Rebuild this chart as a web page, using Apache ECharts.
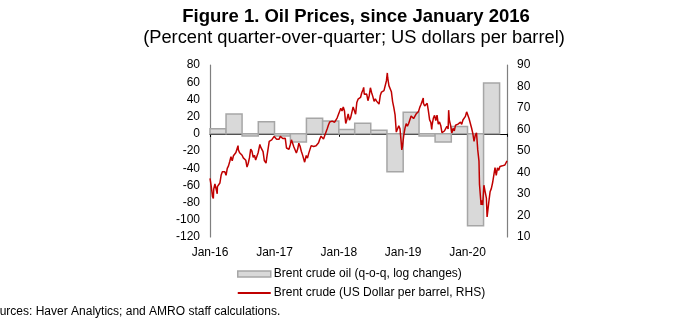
<!DOCTYPE html>
<html>
<head>
<meta charset="utf-8">
<script src="https://cdn.jsdelivr.net/npm/echarts@6/dist/echarts.min.js"></script>
<style>
html,body{margin:0;padding:0;background:#fff;}
#chart{width:700px;height:322px;}
</style>
</head>
<body>
<div id="chart"></div>
<script>
// Quarterly Brent change (q-o-q, log changes), bars span each quarter
var barQuarterStarts = ['2016-01-01','2016-04-01','2016-07-01','2016-10-01',
  '2017-01-01','2017-04-01','2017-07-01','2017-10-01',
  '2018-01-01','2018-04-01','2018-07-01','2018-10-01',
  '2019-01-01','2019-04-01','2019-07-01','2019-10-01',
  '2020-01-01','2020-04-01','2020-07-01'];
var barValues = [6, 23, -2.5, 14, -2.5, -9.5, 18, 15, 5, 12.4, 4, -44, 25, -2.5, -9.5, 8.5, -107, 59];

// Brent crude price, US$ per barrel
var brentDates = [
'2016-01-01','2016-01-08','2016-01-15','2016-01-20','2016-01-22','2016-01-29','2016-02-05','2016-02-11','2016-02-12','2016-02-19','2016-02-26',
'2016-03-04','2016-03-11','2016-03-18','2016-03-25','2016-04-01','2016-04-08','2016-04-15','2016-04-22','2016-04-29',
'2016-05-06','2016-05-13','2016-05-20','2016-05-27','2016-06-03','2016-06-08','2016-06-10','2016-06-17','2016-06-24',
'2016-07-01','2016-07-08','2016-07-15','2016-07-22','2016-07-29','2016-08-02','2016-08-05','2016-08-12','2016-08-19','2016-08-26',
'2016-09-02','2016-09-09','2016-09-16','2016-09-23','2016-09-30','2016-10-07','2016-10-10','2016-10-14','2016-10-21','2016-10-28',
'2016-11-04','2016-11-11','2016-11-14','2016-11-18','2016-11-25','2016-12-02','2016-12-09','2016-12-16','2016-12-23','2016-12-30',
'2017-01-06','2017-01-13','2017-01-20','2017-01-27','2017-02-03','2017-02-10','2017-02-17','2017-02-24',
'2017-03-03','2017-03-10','2017-03-17','2017-03-24','2017-03-31','2017-04-07','2017-04-14','2017-04-21','2017-04-28',
'2017-05-05','2017-05-12','2017-05-19','2017-05-26','2017-06-02','2017-06-09','2017-06-16','2017-06-21','2017-06-23','2017-06-30',
'2017-07-07','2017-07-14','2017-07-21','2017-07-28','2017-08-04','2017-08-11','2017-08-18','2017-08-25',
'2017-09-01','2017-09-08','2017-09-15','2017-09-22','2017-09-29','2017-10-06','2017-10-13','2017-10-20','2017-10-27',
'2017-11-03','2017-11-10','2017-11-17','2017-11-24','2017-12-01','2017-12-08','2017-12-15','2017-12-22','2017-12-29',
'2018-01-05','2018-01-12','2018-01-19','2018-01-26','2018-02-02','2018-02-09','2018-02-16','2018-02-23',
'2018-03-02','2018-03-09','2018-03-16','2018-03-23','2018-03-30','2018-04-06','2018-04-13','2018-04-20','2018-04-27',
'2018-05-04','2018-05-11','2018-05-18','2018-05-22','2018-05-25','2018-06-01','2018-06-08','2018-06-15','2018-06-22','2018-06-29',
'2018-07-06','2018-07-13','2018-07-20','2018-07-27','2018-08-03','2018-08-10','2018-08-17','2018-08-24','2018-08-31',
'2018-09-07','2018-09-14','2018-09-21','2018-09-28','2018-10-03','2018-10-05','2018-10-12','2018-10-19','2018-10-26',
'2018-11-02','2018-11-09','2018-11-16','2018-11-23','2018-11-30','2018-12-07','2018-12-14','2018-12-21','2018-12-24','2018-12-28',
'2019-01-04','2019-01-11','2019-01-18','2019-01-25','2019-02-01','2019-02-08','2019-02-15','2019-02-22',
'2019-03-01','2019-03-08','2019-03-15','2019-03-22','2019-03-29','2019-04-05','2019-04-12','2019-04-19','2019-04-25','2019-04-26',
'2019-05-03','2019-05-10','2019-05-17','2019-05-24','2019-05-31','2019-06-07','2019-06-12','2019-06-14','2019-06-21','2019-06-28',
'2019-07-05','2019-07-12','2019-07-19','2019-07-26','2019-08-02','2019-08-09','2019-08-16','2019-08-23','2019-08-30',
'2019-09-06','2019-09-13','2019-09-16','2019-09-20','2019-09-27','2019-10-04','2019-10-11','2019-10-18','2019-10-25',
'2019-11-01','2019-11-08','2019-11-15','2019-11-22','2019-11-29','2019-12-06','2019-12-13','2019-12-20','2019-12-27',
'2020-01-03','2020-01-06','2020-01-10','2020-01-17','2020-01-24','2020-01-31','2020-02-07','2020-02-14','2020-02-21','2020-02-28',
'2020-03-06','2020-03-09','2020-03-13','2020-03-18','2020-03-20','2020-03-27','2020-04-01','2020-04-03','2020-04-09','2020-04-17',
'2020-04-21','2020-04-24','2020-05-01','2020-05-08','2020-05-15','2020-05-22','2020-05-29','2020-06-05','2020-06-12','2020-06-19',
'2020-06-26','2020-07-03','2020-07-10','2020-07-17','2020-07-24','2020-07-31','2020-08-07','2020-08-12'
];
var brentPrices = [
37.3,33.6,28.9,27.9,32.2,34.7,34.1,30.1,33.4,33.0,35.1,
38.7,40.4,41.2,40.4,38.7,41.9,43.1,45.1,47.4,
45.4,47.8,48.7,49.3,49.6,52.5,50.5,49.2,48.4,
48.0,46.8,47.6,45.7,42.5,41.8,44.3,46.9,50.9,49.9,
47.0,48.0,45.8,45.9,49.2,51.9,53.1,51.9,51.8,49.7,
45.6,44.8,44.4,46.9,47.2,54.5,54.3,55.2,55.2,56.8,
57.1,55.5,55.5,55.5,56.8,56.7,55.8,56.0,
55.9,51.4,51.8,50.8,52.8,55.2,55.9,51.9,51.7,
49.1,50.8,53.6,52.2,49.9,48.2,47.4,44.8,45.5,47.9,
46.7,48.9,48.1,52.5,52.4,52.1,52.7,52.4,
52.8,53.8,55.6,56.9,57.5,55.6,57.2,57.8,60.4,
62.1,63.5,62.7,63.9,63.7,63.4,63.2,65.3,66.9,
67.6,69.9,68.6,70.5,68.6,62.8,64.8,67.3,
64.4,65.5,66.2,70.5,70.3,67.1,72.6,74.1,74.6,
74.9,77.1,78.5,79.6,76.4,76.8,76.5,73.4,75.6,79.4,
77.1,75.3,73.1,74.3,73.2,72.8,71.8,75.8,77.4,
76.8,78.1,78.8,82.7,86.3,84.2,80.4,79.8,77.6,
73.0,70.2,66.8,58.8,58.7,61.7,60.3,53.8,50.5,52.2,
57.1,60.5,62.7,61.6,62.8,62.1,66.3,67.1,
65.1,65.7,67.2,67.0,68.4,70.3,71.6,71.9,74.6,72.2,
70.9,70.6,72.2,68.7,64.5,63.3,60.0,62.0,65.2,66.6,
64.2,66.7,62.5,63.5,61.9,58.5,58.6,59.3,60.4,
61.5,60.2,69.0,64.3,61.9,58.4,60.5,59.4,62.0,
61.7,62.5,63.3,63.4,62.4,64.4,65.2,66.1,68.2,
68.6,68.9,65.0,64.9,60.7,58.2,54.5,57.3,58.5,50.5,
45.3,34.4,33.9,24.9,27.0,24.9,24.7,34.1,31.5,28.1,
19.3,21.4,26.4,31.0,32.5,35.1,35.3,42.3,38.7,42.2,
41.0,42.8,43.2,43.1,43.3,43.5,44.4,45.4
];

var barName = 'Brent crude oil (q-o-q, log changes)';
var lineName = 'Brent crude (US Dollar per barrel, RHS)';

var xMin = +new Date('2016-01-01T00:00:00');
var xMax = +new Date('2020-08-12T00:00:00');

var barData = barValues.map(function (v, i) {
  return [+new Date(barQuarterStarts[i] + 'T00:00:00'), +new Date(barQuarterStarts[i + 1] + 'T00:00:00'), v];
});
var lineData = brentDates.map(function (d, i) {
  return [+new Date(d + 'T00:00:00'), brentPrices[i]];
});

var FONT = 'Liberation Sans, Arial, sans-serif';
var YEAR = 365 * 24 * 3600 * 1000;

var chart = echarts.init(document.getElementById('chart'), null, {renderer: 'canvas'});
chart.setOption({
  animation: false,
  backgroundColor: '#ffffff',
  textStyle: {fontFamily: FONT},
  grid: {left: 210, right: 193, top: 65, bottom: 85, containLabel: false},
  graphic: [
    {type: 'text', x: 356, y: 7, style: {text: 'Figure 1. Oil Prices, since January 2016', font: 'bold 18.5px ' + FONT, fill: '#000', textAlign: 'center', textVerticalAlign: 'top'}},
    {type: 'text', x: 354, y: 29, style: {text: '(Percent quarter-over-quarter; US dollars per barrel)', font: '18.3px ' + FONT, fill: '#000', textAlign: 'center', textVerticalAlign: 'top'}},
    {type: 'text', left: -15, top: 306, style: {text: 'Sources: Haver Analytics; and AMRO staff calculations.', font: '12px ' + FONT, fill: '#000'}}
  ],
  legend: {
    orient: 'vertical',
    left: 232,
    top: 262,
    itemWidth: 33,
    itemHeight: 6,
    itemGap: 5,
    textStyle: {fontSize: 12, color: '#000', fontFamily: FONT, lineHeight: 14, padding: [0, 0, 0, -2]},
    data: [
      {name: barName, icon: 'rect', itemStyle: {color: '#d9d9d9', borderColor: '#a6a6a6', borderWidth: 1.5}},
      {name: lineName,
       icon: 'path://M0,0 L0.01,0 L0.01,0.01 Z M0,6 L0.01,6 L0.01,5.99 Z M0,2.1 L33,2.1 L33,3.9 L0,3.9 Z',
       itemStyle: {color: '#c00000', borderWidth: 0}}
    ]
  },
  xAxis: [
    {
      type: 'time', min: xMin, max: xMax, position: 'bottom',
      minInterval: YEAR, maxInterval: YEAR,
      axisLine: {show: false, onZero: false},
      axisTick: {show: false},
      splitLine: {show: false},
      axisLabel: {
        fontSize: 12, color: '#000', fontFamily: FONT, margin: 10,
        showMinLabel: true, showMaxLabel: false,
        formatter: function (v) { var d = new Date(v); return 'Jan-' + String(d.getFullYear()).slice(2); }
      }
    },
    {
      type: 'time', min: xMin, max: xMax, position: 'bottom',
      minInterval: YEAR, maxInterval: YEAR,
      axisLine: {show: true, onZero: true, onZeroAxisIndex: 0, lineStyle: {color: '#000', width: 1.2}},
      axisTick: {show: true, inside: false, length: 3, lineStyle: {color: '#000'}},
      splitLine: {show: false},
      axisLabel: {show: false}
    }
  ],
  yAxis: [
    {
      type: 'value', min: -120, max: 80, interval: 20, position: 'left',
      axisLine: {show: true, lineStyle: {color: '#7f7f7f', width: 1.2}},
      axisTick: {show: false},
      splitLine: {show: false},
      axisLabel: {fontSize: 12, color: '#000', fontFamily: FONT, margin: 10}
    },
    {
      type: 'value', min: 10, max: 90, interval: 10, position: 'right',
      axisLine: {show: true, lineStyle: {color: '#7f7f7f', width: 1.2}},
      axisTick: {show: false},
      splitLine: {show: false},
      axisLabel: {fontSize: 12, color: '#000', fontFamily: FONT, margin: 10}
    }
  ],
  series: [
    {
      name: barName,
      type: 'custom',
      xAxisIndex: 0, yAxisIndex: 0,
      itemStyle: {color: '#d9d9d9', borderColor: '#a6a6a6', borderWidth: 1.5},
      renderItem: function (params, api) {
        var p0 = api.coord([api.value(0), api.value(2)]);
        var p1 = api.coord([api.value(1), 0]);
        var x = Math.min(p0[0], p1[0]), y = Math.min(p0[1], p1[1]);
        return {
          type: 'rect',
          shape: {x: x, y: y, width: Math.abs(p1[0] - p0[0]), height: Math.abs(p1[1] - p0[1])},
          style: {fill: '#d9d9d9', stroke: '#a6a6a6', lineWidth: 1.5}
        };
      },
      encode: {x: [0, 1], y: 2},
      data: barData,
      z: 1
    },
    {
      name: lineName,
      type: 'line',
      xAxisIndex: 0, yAxisIndex: 1,
      showSymbol: false, symbol: 'none',
      lineStyle: {color: '#c00000', width: 1.5},
      itemStyle: {color: '#c00000'},
      data: lineData,
      z: 3
    }
  ]
});
</script>
</body>
</html>
